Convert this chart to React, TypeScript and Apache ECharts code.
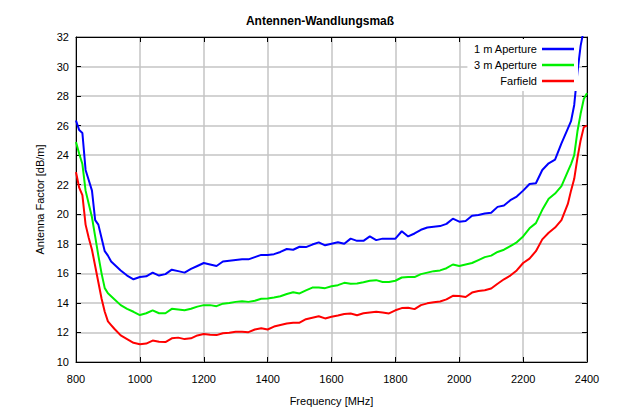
import React, { useEffect, useRef } from "react";
import * as echarts from "echarts";

const TITLE = "Antennen-Wandlungsmaß";
const X_NAME = "Frequency [MHz]";
const Y_NAME = "Antenna Factor [dB/m]";
const SERIES_NAMES = ["1 m Aperture", "3 m Aperture", "Farfield"];
const SERIES_COLORS = ["#0000ff", "#00f000", "#ff0000"];

const freq = [
  800, 810, 820, 830, 840, 850, 860, 870, 880, 890,
  900, 910, 920, 940, 960, 980, 1000, 1020, 1040, 1060,
  1080, 1100, 1120, 1140, 1160, 1180, 1200, 1220, 1240, 1260,
  1280, 1300, 1320, 1340, 1360, 1380, 1400, 1420, 1440, 1460,
  1480, 1500, 1520, 1540, 1560, 1580, 1600, 1620, 1640, 1660,
  1680, 1700, 1720, 1740, 1760, 1780, 1800, 1820, 1840, 1860,
  1880, 1900, 1920, 1940, 1960, 1980, 2000, 2020, 2040, 2060,
  2080, 2100, 2120, 2140, 2160, 2180, 2200, 2220, 2240, 2260,
  2280, 2300, 2320, 2340, 2350, 2360, 2370, 2380, 2390, 2400,
];

const aperture1m = [
  26.35, 25.7, 25.5, 23.0, 22.3, 21.6, 19.6, 19.3, 18.4, 17.5,
  17.2, 16.8, 16.6, 16.2, 15.85, 15.6, 15.75, 15.8, 16.05, 15.85,
  15.95, 16.25, 16.15, 16.05, 16.3, 16.5, 16.7, 16.6, 16.5, 16.8,
  16.85, 16.9, 16.95, 16.95, 17.1, 17.25, 17.25, 17.3, 17.45, 17.65,
  17.6, 17.8, 17.78, 17.95, 18.1, 17.9, 18.0, 18.1, 18.0, 18.35,
  18.2, 18.2, 18.5, 18.25, 18.35, 18.35, 18.35, 18.85, 18.5, 18.7,
  18.95, 19.1, 19.15, 19.2, 19.35, 19.7, 19.5, 19.55, 19.9, 19.95,
  20.05, 20.1, 20.5, 20.6, 20.95, 21.2, 21.6, 22.05, 22.1, 23.0,
  23.45, 23.7, 24.8, 25.8, 26.3, 27.4, 29.6, 31.4, 32.5, null,
];

const aperture3m = [
  24.9, 24.1, 23.4, 21.6, 20.7, 19.8, 18.5, 17.2, 16.0, 15.0,
  14.65, 14.45, 14.25, 13.85, 13.6, 13.4, 13.18, 13.3, 13.5, 13.3,
  13.3, 13.6, 13.55, 13.5, 13.6, 13.75, 13.85, 13.85, 13.78, 13.95,
  14.0, 14.07, 14.12, 14.07, 14.15, 14.28, 14.3, 14.37, 14.45, 14.6,
  14.72, 14.64, 14.85, 15.04, 15.04, 15.0, 15.13, 15.2, 15.36, 15.3,
  15.32, 15.4, 15.5, 15.54, 15.42, 15.42, 15.5, 15.72, 15.75, 15.75,
  15.95, 16.05, 16.15, 16.2, 16.35, 16.6, 16.5, 16.6, 16.7, 16.9,
  17.1, 17.2, 17.45, 17.6, 17.85, 18.1, 18.5, 19.05, 19.4, 20.3,
  21.05, 21.4, 21.9, 22.9, 23.4, 24.0, 25.6, 26.8, 27.8, 28.2,
];

const farfield = [
  22.85, 21.8, 21.3, 19.3, 18.4, 17.6, 16.5, 15.4, 14.3, 13.4,
  12.75, 12.5, 12.25, 11.8, 11.55, 11.3, 11.2, 11.25, 11.45, 11.37,
  11.35, 11.6, 11.65, 11.55, 11.6, 11.8, 11.89, 11.85, 11.82, 11.95,
  11.98, 12.05, 12.05, 12.02, 12.2, 12.28, 12.2, 12.4, 12.5, 12.6,
  12.66, 12.66, 12.9, 13.0, 13.1, 12.95, 13.06, 13.15, 13.25, 13.28,
  13.17, 13.3, 13.35, 13.4, 13.35, 13.29, 13.5, 13.65, 13.67, 13.58,
  13.85, 13.97, 14.05, 14.1, 14.24, 14.48, 14.46, 14.4, 14.7, 14.8,
  14.86, 14.98, 15.3, 15.6, 15.85, 16.2, 16.7, 17.0, 17.5, 18.3,
  18.75, 19.1, 19.6, 20.7, 21.6, 22.4, 23.8, 25.0, 25.9, 26.0,
];

const X_MIN = 800;
const X_MAX = 2400;
const X_STEP = 200;
const Y_MIN = 10;
const Y_MAX = 32;
const Y_STEP = 2;

export default function App() {
  const ref = useRef<HTMLDivElement>(null);

  useEffect(() => {
    if (!ref.current) return;
    const chart = echarts.init(ref.current, null, { renderer: "svg" });
    const font = "Liberation Sans, Arial, sans-serif";
    const valuesList = [aperture1m, aperture3m, farfield];

    const series = valuesList.map((vals, i) => ({
      name: SERIES_NAMES[i],
      type: "line",
      xAxisIndex: 0,
      yAxisIndex: 0,
      data: freq.map((f, j) => [f, vals[j]]),
      showSymbol: false,
      symbol: "none",
      clip: true,
      connectNulls: false,
      lineStyle: { color: SERIES_COLORS[i], width: 2 },
      itemStyle: { color: SERIES_COLORS[i] },
      z: 3 + i,
    }));

    const tickStyle = { inside: true, length: 5, lineStyle: { color: "#000", width: 1 } };

    chart.setOption({
      animation: false,
      backgroundColor: "#fff",
      textStyle: { fontFamily: font },
      title: {
        text: TITLE,
        left: "center",
        top: 10,
        textStyle: { fontFamily: font, fontSize: 12, fontWeight: "bold", color: "#000" },
      },
      grid: {
        left: 76,
        right: 53,
        top: 37,
        bottom: 58,
        show: true,
        borderColor: "#000",
        borderWidth: 1,
        backgroundColor: "transparent",
      },
      legend: {
        data: SERIES_NAMES,
        orient: "vertical",
        align: "right",
        right: 62,
        top: 39,
        padding: [3, 4, 3, 6],
        itemGap: 2,
        itemWidth: 32,
        itemHeight: 2.5,
        icon: "rect",
        backgroundColor: "#fff",
        textStyle: { fontFamily: font, fontSize: 11, color: "#000", lineHeight: 14 },
        z: 10,
      },
      xAxis: [
        {
          type: "value",
          min: X_MIN,
          max: X_MAX,
          interval: X_STEP,
          position: "bottom",
          name: X_NAME,
          nameLocation: "middle",
          nameGap: 33,
          nameTextStyle: { fontFamily: font, fontSize: 11, color: "#000" },
          axisLine: { show: true, lineStyle: { color: "#000", width: 1 } },
          axisTick: tickStyle,
          axisLabel: {
            fontFamily: font,
            fontSize: 11,
            color: "#000",
            margin: 11,
            formatter: (v: number) => String(v),
          },
          splitLine: { show: true, lineStyle: { color: "#c4c4c4", width: 1.5 } },
        },
        {
          type: "value",
          min: X_MIN,
          max: X_MAX,
          interval: X_STEP,
          position: "top",
          axisLine: { show: true, lineStyle: { color: "#000", width: 1 } },
          axisTick: tickStyle,
          axisLabel: { show: false },
          splitLine: { show: false },
        },
      ],
      yAxis: [
        {
          type: "value",
          min: Y_MIN,
          max: Y_MAX,
          interval: Y_STEP,
          position: "left",
          name: Y_NAME,
          nameLocation: "middle",
          nameGap: 26,
          nameTextStyle: { fontFamily: font, fontSize: 11, color: "#000" },
          axisLine: { show: true, lineStyle: { color: "#000", width: 1 } },
          axisTick: tickStyle,
          axisLabel: { fontFamily: font, fontSize: 11, color: "#000", margin: 7 },
          splitLine: { show: true, lineStyle: { color: "#c4c4c4", width: 1.5 } },
        },
        {
          type: "value",
          min: Y_MIN,
          max: Y_MAX,
          interval: Y_STEP,
          position: "right",
          axisLine: { show: true, lineStyle: { color: "#000", width: 1 } },
          axisTick: tickStyle,
          axisLabel: { show: false },
          splitLine: { show: false },
        },
      ],
      series,
    });

    return () => chart.dispose();
  }, []);

  return <div ref={ref} style={{ width: 640, height: 420, margin: -8 }} />;
}
